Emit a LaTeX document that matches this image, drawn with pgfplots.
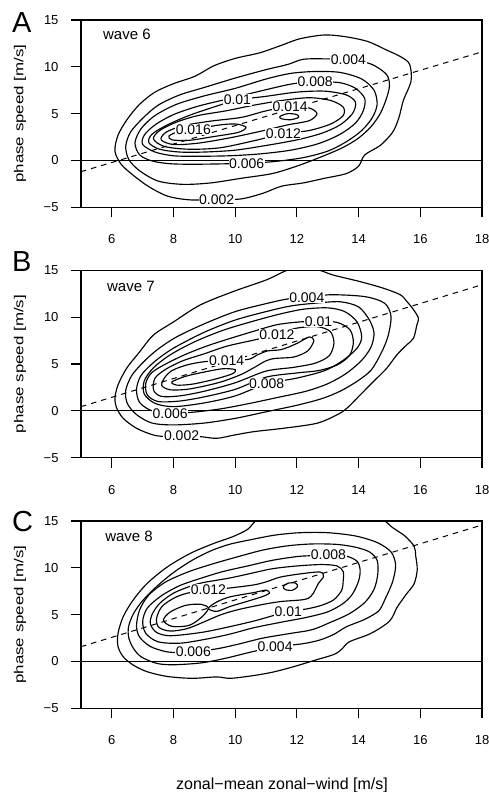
\documentclass[border=0pt]{standalone}
\usepackage{fontspec}
\setmainfont{Liberation Sans}
\usepackage{graphicx}
\usepackage{pgfplots}
\pgfplotsset{compat=1.18}
\pgfplotsset{
  panel/.style={
    scale only axis, width=401bp, height=187.3bp,
    xmin=5, xmax=18, ymin=-5, ymax=15,
    xtick={6,8,10,12,14,16,18}, xticklabels={6,8,10,12,14,16,18},
    ytick={-5,0,5,10,15}, yticklabels={−5,0,5,10,15},
    tick align=outside, xtick pos=left, ytick pos=left,
    major tick length=10bp,
    axis line style={black, line width=1.1bp},
    every tick/.append style={black, line width=1.1bp},
    tick label style={font=\fontsize{13bp}{15bp}\selectfont},
    xticklabel style={yshift=-14bp},
    yticklabel style={xshift=-9bp},
    ylabel={\scalebox{1.3}[1]{phase speed [m/s]}},
    every axis y label/.style={at={(axis description cs:-0.152,0.5)}, rotate=90, anchor=center, font=\fontsize{13bp}{15bp}\selectfont},
  },
  cl/.style={black, line width=1.15bp, smooth cycle},
  ln/.style={black, line width=1.1bp},
  dl/.style={black, line width=1bp, dash pattern=on 5.5bp off 5bp},
}
\tikzset{lab/.style={fill=white, inner sep=0.6bp, font=\fontsize{14bp}{14bp}\selectfont},
         wv/.style={anchor=base west, inner sep=0pt, font=\fontsize{15bp}{15bp}\selectfont}}

\begin{document}
\begin{tikzpicture}
\useasboundingbox (0,0) rectangle (489bp,792bp);
% ---------------- Panel A ----------------
\begin{axis}[panel, at={(81bp,584.7bp)}, anchor=south west]
\addplot[ln] coordinates {(5,0) (18,0)};
\addplot[dl] coordinates {(5,-1.2) (18,11.6)};
% 0.002
\addplot[cl] coordinates {(9.4,-4.2) (10.2,-4.1) (10.9,-3.5) (11.5,-2.75) (12.2,-2.4) (12.9,-1.9) (13.6,-1.4) (14.0,-0.6) (14.2,0.6) (14.7,1.6) (15.1,3.0) (15.3,4.5) (15.45,6.4) (15.7,8.5) (15.65,10.3) (15.35,11.1) (14.9,11.8) (14.3,12.7) (13.6,13.2) (12.9,13.4) (12.1,13.0) (11.5,12.3) (10.8,11.5) (10.0,10.9) (9.3,10.1) (8.7,9.0) (8.0,8.2) (7.4,7.3) (6.9,6.0) (6.5,4.4) (6.2,2.7) (6.1,1.0) (6.3,-0.4) (6.7,-1.6) (7.2,-2.8) (7.8,-3.8) (8.5,-4.2)};
% 0.004
\addplot[cl] coordinates {(13.67,10.75) (14.4,10.3) (14.9,9.2) (15.0,8.0) (14.9,6.6) (14.7,5.0) (14.4,3.6) (14.0,2.4) (13.5,1.4) (12.8,0.4) (12.0,-0.6) (11.2,-1.4) (10.2,-1.9) (9.2,-2.4) (8.3,-2.55) (7.5,-2.2) (6.9,-1.1) (6.55,0.1) (6.45,1.5) (6.6,3.0) (7.0,4.5) (7.5,5.9) (8.2,7.0) (9.0,7.8) (10.0,8.8) (11.0,9.7) (11.7,10.25) (12.2,10.8) (12.9,10.85)};
% 0.006
\addplot[cl] coordinates {(10.37,-0.3) (11.3,-0.1) (12.2,0.3) (13.0,1.0) (13.6,2.0) (14.1,3.2) (14.45,4.6) (14.6,6.0) (14.5,7.5) (14.1,8.7) (13.4,9.4) (12.6,9.5) (11.8,9.3) (11.0,8.7) (10.0,7.7) (9.0,6.9) (8.1,6.0) (7.4,4.8) (6.95,3.4) (6.75,1.9) (6.9,0.6) (7.3,-0.05) (7.9,-0.35) (8.8,-0.4)};
% 0.008
\addplot[cl] coordinates {(12.59,8.42) (13.4,8.3) (13.9,7.7) (14.2,6.6) (14.15,5.3) (13.9,4.0) (13.4,2.8) (12.7,1.8) (11.8,1.1) (10.8,0.7) (9.8,0.5) (8.8,0.45) (8.0,0.5) (7.4,0.9) (7.0,1.7) (7.05,2.7) (7.4,3.8) (8.0,4.9) (8.8,5.8) (9.8,6.6) (10.8,7.4) (11.8,8.15)};
% 0.01
\addplot[cl] coordinates {(10.07,6.45) (11.0,6.85) (12.0,7.3) (12.9,7.4) (13.6,7.0) (13.9,6.2) (13.8,5.0) (13.4,3.8) (12.8,2.9) (12.0,2.2) (11.0,1.6) (10.0,1.1) (9.0,0.9) (8.2,0.9) (7.55,1.2) (7.2,1.9) (7.3,2.8) (7.8,3.8) (8.5,4.8) (9.3,5.7)};
% 0.012
\addplot[cl] coordinates {(11.56,2.85) (12.4,3.2) (13.1,3.9) (13.5,4.8) (13.5,5.7) (13.1,6.4) (12.4,6.7) (11.5,6.4) (10.6,5.9) (9.7,5.3) (8.8,4.8) (8.1,4.1) (7.55,3.2) (7.35,2.3) (7.7,1.5) (8.5,1.2) (9.5,1.35) (10.6,2.1)};
% 0.014
\addplot[cl] coordinates {(11.78,5.75) (12.4,5.6) (12.65,5.0) (12.4,4.25) (11.7,3.8) (10.8,3.1) (9.8,2.4) (8.8,1.85) (8.0,1.7) (7.6,2.2) (7.75,3.0) (8.3,3.7) (9.2,4.2) (10.2,4.6) (11.0,5.3)};
% 0.016
\addplot[cl] coordinates {(8.64,3.26) (9.4,3.75) (10.0,3.9) (10.35,3.55) (10.1,3.0) (9.3,2.55) (8.5,2.15) (7.95,2.2) (7.85,2.6) (8.1,3.0)};
\addplot[cl] coordinates {(11.45,4.7) (11.7,5.0) (12.0,4.9) (12.05,4.6) (11.8,4.35) (11.5,4.45)};
\node[lab] at (axis cs:9.40,-4.15) {0.002};
\node[lab] at (axis cs:13.67,10.73) {0.004};
\node[lab] at (axis cs:10.37,-0.30) {0.006};
\node[lab] at (axis cs:12.59,8.42) {0.008};
\node[lab] at (axis cs:10.07,6.46) {0.01};
\node[lab] at (axis cs:11.56,2.90) {0.012};
\node[lab] at (axis cs:11.78,5.75) {0.014};
\node[lab] at (axis cs:8.64,3.26) {0.016};
\node[wv] at (axis cs:5.71,12.94) {wave 6};
\end{axis}
% ---------------- Panel B ----------------
\begin{axis}[panel, at={(81bp,334.3bp)}, anchor=south west]
\addplot[ln] coordinates {(5,0) (18,0)};
\addplot[dl] coordinates {(5,0.45) (18,13.47)};
% 0.002
\addplot[cl] coordinates {(8.26,-2.72) (8.86,-2.75) (9.4,-2.93) (9.94,-2.6) (10.6,-2.22) (11.56,-1.86) (12.64,-1.33) (13.29,-0.44) (13.62,0.28) (14.05,1.7) (14.48,3.13) (14.91,4.55) (15.24,5.98) (15.56,7.05) (15.78,7.76) (15.89,9.19) (15.94,9.9) (15.78,10.8) (15.56,11.7) (15.35,12.4) (14.8,13.1) (14.05,13.8) (13.18,14.5) (12.75,15.0) (12.2,15.4) (11.67,15.0) (11.02,14.0) (9.94,12.75) (8.86,11.3) (8.0,9.5) (7.35,8.1) (6.9,6.3) (6.48,4.55) (6.2,2.77) (6.1,1.35) (6.16,0.28) (6.37,-0.8) (6.8,-1.86) (7.35,-2.58) (7.78,-2.75)};
% 0.004
\addplot[cl] coordinates {(12.32,12.1) (13.1,12.4) (14.2,12.2) (14.84,11.5) (15.05,10.1) (14.95,7.94) (14.73,6.16) (14.41,4.37) (13.97,3.2) (13.4,2.1) (12.8,1.3) (12.0,0.6) (11.0,-0.1) (10.0,-0.8) (9.0,-1.3) (8.0,-1.5) (7.3,-1.3) (6.8,-0.4) (6.5,0.8) (6.45,2.2) (6.65,3.8) (7.05,5.3) (7.5,6.6) (8.1,7.9) (9.0,9.3) (10.0,10.6) (11.0,11.45) (11.7,11.95)};
% 0.006
\addplot[cl] coordinates {(7.89,-0.26) (8.6,-0.15) (9.5,0.2) (10.4,0.75) (11.4,1.45) (12.3,2.1) (13.0,2.9) (13.6,4.0) (14.1,5.4) (14.4,6.8) (14.5,8.3) (14.35,9.7) (14.0,11.1) (13.4,11.65) (12.6,11.5) (11.8,11.2) (11.0,10.6) (10.0,9.7) (9.0,8.4) (8.0,6.7) (7.4,5.3) (6.95,3.8) (6.8,2.3) (6.9,0.9) (7.3,0.0)};
% 0.008
\addplot[cl] coordinates {(11.02,2.9) (12.0,3.5) (12.9,4.3) (13.5,5.4) (13.95,6.7) (14.1,7.9) (13.95,9.5) (13.55,10.6) (13.0,11.0) (12.2,10.85) (11.4,10.3) (10.5,9.5) (9.6,8.6) (8.7,7.4) (7.9,6.0) (7.35,4.6) (7.05,3.2) (7.05,1.8) (7.4,0.8) (8.0,0.45) (9.0,0.85) (10.0,1.6)};
% 0.01
\addplot[cl] coordinates {(12.7,9.55) (13.3,9.45) (13.72,8.66) (13.83,7.3) (13.7,5.9) (13.3,4.9) (12.7,4.3) (12.0,4.05) (11.0,3.6) (10.0,2.3) (9.0,1.5) (8.2,1.05) (7.5,1.0) (7.15,1.7) (7.1,2.95) (7.3,4.1) (7.8,5.1) (8.4,6.05) (9.1,6.95) (9.8,7.7) (10.6,8.5) (11.35,9.2) (12.1,9.5)};
% 0.012
\addplot[cl] coordinates {(11.35,8.12) (11.94,8.8) (12.64,9.0) (13.08,8.48) (13.2,7.23) (13.05,5.9) (12.6,5.1) (11.9,4.65) (11.0,4.25) (10.0,3.0) (9.0,2.1) (8.2,1.6) (7.6,1.55) (7.35,2.24) (7.4,3.49) (7.75,4.45) (8.3,5.35) (9.0,6.1) (9.72,6.9) (10.59,7.55)};
% 0.014
\addplot[cl] coordinates {(9.72,5.38) (10.43,5.5) (10.7,5.95) (11.05,6.4) (11.5,6.55) (12.0,7.2) (12.4,7.9) (12.55,7.5) (12.35,6.4) (11.9,5.75) (11.3,5.6) (11.0,5.35) (10.6,4.6) (10.2,3.9) (9.6,3.15) (9.0,2.65) (8.43,2.3) (7.89,2.25) (7.62,2.7) (7.7,3.5) (7.95,4.3) (8.43,4.9) (9.0,5.25)};
% 0.016
\addplot[cl] coordinates {(7.95,3.1) (8.4,3.7) (9.0,4.15) (9.6,4.5) (10.0,4.4) (9.9,3.95) (9.3,3.35) (8.6,2.85) (8.1,2.75)};
\node[lab] at (axis cs:8.26,-2.68) {0.002};
\node[lab] at (axis cs:12.32,12.11) {0.004};
\node[lab] at (axis cs:7.89,-0.26) {0.006};
\node[lab] at (axis cs:11.02,2.95) {0.008};
\node[lab] at (axis cs:12.70,9.55) {0.01};
\node[lab] at (axis cs:11.35,8.12) {0.012};
\node[lab] at (axis cs:9.72,5.34) {0.014};
\node[wv] at (axis cs:5.84,12.75) {wave 7};
\end{axis}
% ---------------- Panel C ----------------
\begin{axis}[panel, at={(81bp,83.7bp)}, anchor=south west]
\addplot[ln] coordinates {(5,0) (18,0)};
\addplot[dl] coordinates {(5,1.58) (18,14.57)};
% 0.002
\addplot[cl] coordinates {(9.83,-1.8) (10.5,-1.55) (11.2,-1.15) (11.9,-0.55) (12.6,0.15) (13.2,0.75) (13.45,1.3) (13.7,2.1) (14.4,3.0) (15.0,4.3) (15.25,5.8) (15.55,7.2) (15.8,8.3) (15.9,9.8) (15.85,11.3) (15.8,12.3) (15.5,13.4) (15.1,14.3) (14.8,15.1) (14.3,15.6) (12.8,15.9) (11.2,15.6) (10.7,15.1) (10.4,14.1) (9.9,13.3) (9.3,12.6) (8.55,11.55) (7.8,10.1) (7.15,8.35) (6.7,6.6) (6.37,4.8) (6.2,3.0) (6.2,1.6) (6.37,0.5) (6.7,-0.4) (7.15,-1.1) (7.8,-1.6) (8.6,-1.8) (9.4,-1.65)};
% 0.004
\addplot[cl] coordinates {(11.29,1.55) (12.2,1.9) (12.75,2.3) (13.2,2.9) (13.6,3.7) (14.2,4.5) (14.65,5.4) (14.85,6.6) (15.1,8.5) (15.2,10.3) (15.05,11.7) (14.6,12.7) (13.9,13.4) (13.0,13.75) (12.1,13.75) (11.3,13.5) (10.5,13.0) (9.8,12.5) (9.2,11.8) (8.6,10.8) (8.0,9.5) (7.45,8.0) (7.0,6.5) (6.7,5.1) (6.54,3.7) (6.55,2.5) (6.7,1.4) (6.95,0.5) (7.45,-0.2) (8.0,-0.35) (8.9,-0.15) (9.7,0.35) (10.5,1.0)};
% 0.006
\addplot[cl] coordinates {(8.64,1.05) (9.4,1.35) (10.1,1.85) (10.9,2.5) (11.8,3.0) (12.5,3.4) (13.1,4.2) (13.7,5.1) (14.2,6.3) (14.5,7.7) (14.62,9.3) (14.6,10.8) (14.35,11.7) (13.9,12.2) (13.3,12.5) (12.5,12.55) (11.7,12.35) (10.9,11.9) (10.1,11.2) (9.3,10.45) (8.5,9.6) (7.75,8.5) (7.2,7.1) (6.9,5.5) (6.8,3.8) (6.9,2.6) (7.25,1.6) (7.75,1.05) (8.2,0.95)};
% 0.008
\addplot[cl] coordinates {(13.02,11.37) (13.6,11.25) (13.95,10.7) (14.05,9.8) (14.0,8.6) (13.8,7.2) (13.5,6.2) (13.0,5.3) (12.3,4.7) (11.5,4.2) (10.6,3.6) (9.8,2.9) (9.0,2.35) (8.2,1.95) (7.5,2.1) (7.1,3.0) (7.0,4.3) (7.15,5.7) (7.6,7.0) (8.2,8.1) (8.9,8.9) (9.6,9.6) (10.4,10.2) (11.2,10.8) (12.0,11.2) (12.5,11.3)};
% 0.01
\addplot[cl] coordinates {(11.72,5.35) (12.3,5.6) (12.8,6.0) (13.2,6.6) (13.45,7.6) (13.5,8.6) (13.5,9.6) (13.3,10.2) (12.8,10.35) (12.0,10.2) (11.2,9.9) (10.5,9.4) (9.8,8.9) (9.0,8.45) (8.6,8.1) (8.0,7.3) (7.55,6.2) (7.3,5.0) (7.25,4.0) (7.45,3.1) (7.9,2.75) (8.9,3.1) (9.8,3.7) (10.7,4.4)};
% 0.012
\addplot[cl] coordinates {(9.13,7.63) (9.72,7.81) (10.59,8.17) (11.02,8.52) (11.45,9.0) (12.1,9.35) (12.75,9.55) (12.86,9.06) (12.7,8.35) (12.53,7.28) (12.37,6.74) (12.1,6.56) (11.45,6.39) (10.8,6.03) (10.05,5.5) (9.51,4.96) (8.97,4.2) (8.43,3.5) (7.89,3.25) (7.52,3.65) (7.45,4.61) (7.62,5.85) (8.0,6.74) (8.43,7.28)};
% 0.014
\addplot[cl] coordinates {(9.13,5.67) (8.9,6.1) (8.4,6.0) (7.9,5.3) (7.67,4.4) (7.95,3.75) (8.5,3.85) (8.9,4.7)};
\addplot[cl] coordinates {(9.13,5.67) (9.4,6.35) (9.83,6.9) (10.59,7.35) (11.0,7.62) (11.11,7.3) (10.9,6.95) (10.37,6.4) (9.83,5.87) (9.4,5.35)};
\addplot[cl] coordinates {(11.56,8.0) (11.7,8.35) (11.95,8.38) (12.02,8.0) (11.85,7.6) (11.62,7.68)};
\node[lab] at (axis cs:11.29,1.58) {0.004};
\node[lab] at (axis cs:8.64,1.05) {0.006};
\node[lab] at (axis cs:13.02,11.37) {0.008};
\node[lab] at (axis cs:11.72,5.32) {0.01};
\node[lab] at (axis cs:9.13,7.63) {0.012};
\node[wv] at (axis cs:5.78,12.79) {wave 8};
\end{axis}
% ---------------- outside text ----------------
\node[anchor=base west, inner sep=0pt, font=\fontsize{29bp}{29bp}\selectfont] at (12bp,759bp) {A};
\node[anchor=base west, inner sep=0pt, font=\fontsize{29bp}{29bp}\selectfont] at (12bp,520.5bp) {B};
\node[anchor=base west, inner sep=0pt, font=\fontsize{29bp}{29bp}\selectfont] at (12bp,260.5bp) {C};
\node[anchor=base, inner sep=0pt, font=\fontsize{16bp}{16bp}\selectfont] at (282bp,3bp) {zonal−mean zonal−wind [m/s]};
\end{tikzpicture}
\end{document}
